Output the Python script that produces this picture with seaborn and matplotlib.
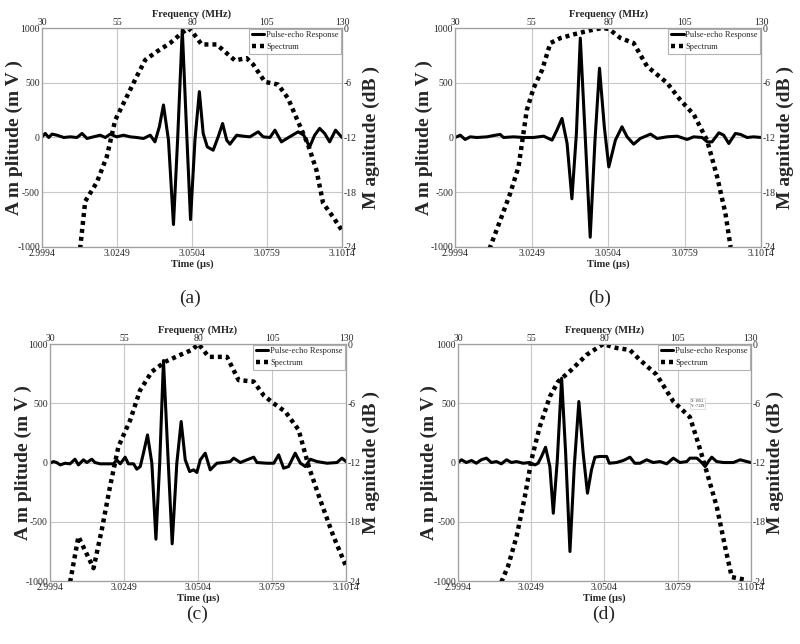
import numpy as np
import matplotlib
matplotlib.use('Agg')
import matplotlib.pyplot as plt
import seaborn as sns

sns.set_style('white')
plt.rcParams['font.family'] = ['Liberation Serif', 'DejaVu Serif']
plt.rcParams['axes.unicode_minus'] = False

# Pulse-echo responses (time in us, amplitude in mV)
t_a = [2.9994, 3.0005, 3.0017, 3.0028, 3.0045, 3.0068, 3.0090, 3.0113, 3.0130, 3.0147,
       3.0169, 3.0192, 3.0209, 3.0226, 3.0248, 3.0271, 3.0294, 3.0316, 3.0339, 3.0362,
       3.0378, 3.0393, 3.0407, 3.0424, 3.0441, 3.0455, 3.0471, 3.0486, 3.0499, 3.0514,
       3.0529, 3.0542, 3.0556, 3.0576, 3.0593, 3.0608, 3.0622, 3.0633, 3.0656, 3.0678,
       3.0701, 3.0729, 3.0746, 3.0769, 3.0786, 3.0808, 3.0836, 3.0865, 3.0884, 3.0904,
       3.0921, 3.0938, 3.0955, 3.0972, 3.0992, 3.1014]
amp_a = [6, 37, 0, 31, 21, 0, 6, 0, 37, -9,
         6, 21, 0, 31, 6, 21, 6, 0, -9, 21,
         -40, 98, 297, -24, -795, -24, 985, 37, -750, -24,
         419, 37, -86, -116, 6, 128, -24, -61, 21, 12,
         6, 52, 6, 0, 67, -40, 6, 52, 21, -86,
         21, 83, 37, -40, 67, 0]

t_b = [2.9994, 3.0011, 3.0027, 3.0044, 3.0066, 3.0100, 3.0122, 3.0144, 3.0155, 3.0189,
       3.0222, 3.0255, 3.0289, 3.0317, 3.0333, 3.0350, 3.0367, 3.0383, 3.0398, 3.0411,
       3.0428, 3.0444, 3.0460, 3.0475, 3.0491, 3.0506, 3.0528, 3.0550, 3.0567, 3.0589,
       3.0611, 3.0645, 3.0667, 3.0700, 3.0734, 3.0767, 3.0789, 3.0817, 3.0834, 3.0850,
       3.0873, 3.0889, 3.0906, 3.0928, 3.0945, 3.0967, 3.0989, 3.1014]
amp_b = [0, 21, -18, 6, 0, 6, 18, 28, 0, 6,
         0, 0, 12, -24, 67, 174, -55, -560, 37, 908,
         -24, -911, -24, 633, 98, -269, -24, 98, 6, -61,
         -9, 31, -9, 6, 12, -18, 6, 0, -40, -40,
         43, 21, -55, 37, 28, 0, 6, 0]

t_c = [2.9994, 3.0006, 3.0017, 3.0029, 3.0046, 3.0063, 3.0080, 3.0092, 3.0109, 3.0121,
       3.0138, 3.0149, 3.0167, 3.0190, 3.0213, 3.0224, 3.0236, 3.0253, 3.0264, 3.0282,
       3.0293, 3.0305, 3.0316, 3.0330, 3.0345, 3.0359, 3.0372, 3.0385, 3.0400, 3.0415,
       3.0431, 3.0446, 3.0460, 3.0475, 3.0489, 3.0500, 3.0512, 3.0529, 3.0546, 3.0569,
       3.0592, 3.0615, 3.0627, 3.0650, 3.0673, 3.0696, 3.0707, 3.0742, 3.0765, 3.0782,
       3.0799, 3.0816, 3.0839, 3.0857, 3.0874, 3.0891, 3.0914, 3.0949, 3.0983, 3.1000,
       3.1014]
amp_c = [-6, 8, 0, -20, -6, -11, 28, -20, 23, 0,
         28, 0, -11, -11, -11, 23, -11, 45, -11, -11,
         -56, -34, 79, 233, -6, -647, -6, 861, 79, -686,
         -6, 346, 23, -76, -62, -84, 23, 79, -62, -6,
         0, 8, 37, 0, 23, 45, 0, -6, -6, 65,
         -48, -34, 79, -6, -34, 28, 8, -6, 0, 37,
         8]

t_d = [2.9994, 3.0006, 3.0023, 3.0041, 3.0058, 3.0075, 3.0093, 3.0110, 3.0128, 3.0145,
       3.0163, 3.0180, 3.0198, 3.0221, 3.0244, 3.0262, 3.0273, 3.0285, 3.0299, 3.0314,
       3.0326, 3.0340, 3.0355, 3.0369, 3.0384, 3.0399, 3.0415, 3.0430, 3.0445, 3.0459,
       3.0471, 3.0488, 3.0512, 3.0521, 3.0546, 3.0570, 3.0593, 3.0610, 3.0628, 3.0651,
       3.0674, 3.0698, 3.0721, 3.0744, 3.0767, 3.0791, 3.0802, 3.0826, 3.0843, 3.0855,
       3.0866, 3.0878, 3.0895, 3.0919, 3.0953, 3.0977, 3.1000, 3.1014]
amp_d = [0, 23, 0, 17, -6, 23, 37, 0, 8, -11,
         23, 0, 8, -6, 0, -20, -6, 51, 129, -34,
         -428, 23, 712, 79, -751, -34, 515, 79, -259, -62,
         45, 51, 51, -6, 0, 17, 45, -6, -6, 23,
         0, 8, -11, 37, 0, 8, 37, 37, 0, -34,
         8, 45, 8, 0, 0, 23, 8, 0]

# Spectra (frequency in MHz, magnitude in dB)
f_a = [42.7, 44.4, 48.3, 51.6, 54.4, 58.3, 61.6, 64.4, 68.2, 72.7, 76.6, 78.8, 80.4, 83.2,
       88.2, 91.0, 94.3, 98.2, 100.4, 104.3, 108.7, 112.0, 115.4, 118.7, 121.5, 123.7, 127.0, 130.0]
db_a = [-24.2, -19.0, -16.9, -14.1, -10.1, -7.5, -5.3, -3.5, -2.6, -1.65, -0.55, 0.0, -0.55, -1.8,
        -1.8, -2.6, -3.55, -3.3, -4.0, -5.9, -6.2, -7.7, -10.3, -12.8, -15.6, -19.2, -20.7, -22.2]

f_b = [41.2, 44.7, 48.0, 50.7, 53.4, 55.6, 58.4, 61.1, 64.4, 68.7, 74.2, 78.0, 80.2, 84.0,
       88.3, 92.7, 99.2, 103.6, 108.0, 112.3, 115.6, 118.3, 120.0]
db_b = [-24.2, -21.1, -18.1, -15.2, -9.0, -6.6, -4.6, -1.65, -1.1, -0.7, -0.25, 0.0, -0.1, -1.1,
        -1.65, -4.2, -6.0, -7.9, -9.5, -12.3, -16.3, -20.3, -24.0]

f_c = [36.8, 39.6, 44.7, 47.5, 50.3, 53.1, 57.1, 60.4, 64.4, 68.9, 74.0, 77.9, 80.2, 83.6,
       89.8, 93.7, 98.8, 102.2, 105.5, 109.5, 114.0, 117.4, 121.3, 125.8, 130.0]
db_c = [-24.1, -19.5, -22.7, -18.8, -14.4, -10.4, -7.7, -4.7, -2.8, -1.8, -1.1, -0.6, 0.0, -1.3,
        -1.3, -3.65, -3.8, -5.2, -6.0, -6.85, -8.7, -12.4, -15.8, -19.5, -22.5]

f_d = [44.8, 47.1, 50.0, 52.8, 55.1, 57.9, 61.4, 64.2, 68.8, 73.9, 79.6, 84.1, 88.7, 92.1,
       97.8, 103.5, 109.2, 112.1, 114.9, 118.4, 121.2, 123.5, 128.6]
db_d = [-24.1, -22.5, -19.5, -15.5, -11.7, -8.4, -5.3, -3.8, -2.6, -1.1, 0.0, -0.4, -0.6, -1.6,
        -3.1, -5.8, -7.4, -10.1, -12.9, -16.5, -20.5, -23.6, -23.9]

# Axis ticks
time_ticks = [2.9994, 3.0249, 3.0504, 3.0759, 3.1014]
time_labels = ['2.9994', '3.0249', '3.0504', '3.0759', '3.1014']
freq_ticks = [30, 55, 80, 105, 130]
amp_ticks = [-1000, -500, 0, 500, 1000]
db_ticks = [-24, -18, -12, -6, 0]


def panel(fig, pos, t, amp, f, db, cap, cap_xy, lab_l, lab_r):
    ax = fig.add_axes(pos)
    sns.lineplot(x=t, y=amp, ax=ax, color='black', lw=2.2, estimator=None,
                 label='Pulse-echo Response')
    ax.set_xlim(time_ticks[0], time_ticks[-1])
    ax.set_ylim(-1000, 1000)
    ax.set_xticks(time_ticks, time_labels)
    ax.set_yticks(amp_ticks)
    ax.grid(True, color='#c8c8c8', lw=0.8)
    ax.set_xlabel('Time (\u03bcs)', fontsize=7.5, fontweight='bold', labelpad=1)
    ax.set_ylabel('A m plitude (m V )', fontsize=14, fontweight='bold')
    ax.yaxis.set_label_coords(lab_l, 0.5)
    ax.tick_params(length=0, pad=1.5, labelsize=7)

    # right y (dB) and top x (frequency)
    ax2 = ax.twinx()
    ax2.set_ylim(-24, 0)
    ax2.set_yticks(db_ticks)
    ax2.set_ylabel('M agnitude (dB )', fontsize=14, fontweight='bold')
    ax2.yaxis.set_label_coords(lab_r, 0.5)
    ax2.tick_params(length=0, pad=1, labelsize=7)
    ax3 = ax2.twiny()
    sns.lineplot(x=f, y=db, ax=ax3, color='black', lw=3.2, estimator=None,
                 linestyle=(0, (0.9, 0.9)), label='Spectrum')
    ax3.set_xlim(30, 130)
    ax3.set_ylim(-24, 0)
    ax3.set_xticks(freq_ticks)
    ax3.set_xlabel('Frequency (MHz)', fontsize=7.5, fontweight='bold', labelpad=1)
    ax3.tick_params(length=0, pad=0.5, labelsize=7)

    for a in (ax, ax2, ax3):
        for s in a.spines.values():
            s.set_color('#a0a0a0')
            s.set_linewidth(0.8)

    h1, l1 = ax.get_legend_handles_labels()
    h3, l3 = ax3.get_legend_handles_labels()
    ax.get_legend().remove()
    ax3.get_legend().remove()
    leg = ax3.legend(h1 + h3, l1 + l3, loc='upper right', fontsize=6.1, frameon=True,
                     fancybox=False, edgecolor='#a0a0a0', handlelength=1.5,
                     handletextpad=0.2, borderpad=0.3, labelspacing=0.45,
                     borderaxespad=0.1)
    leg.get_frame().set_linewidth(0.8)

    fig.text(cap_xy[0], cap_xy[1], cap, fontsize=14, ha='center', va='center')
    return ax3


fig = plt.figure(figsize=(8, 6.44), dpi=100)

panel(fig, [0.0525, 0.6165, 0.375, 0.340], t_a, amp_a, f_a, db_a, '(a)', (0.2375, 0.537), -0.063, 1.07)
panel(fig, [0.569, 0.6165, 0.3825, 0.340], t_b, amp_b, f_b, db_b, '(b)', (0.75, 0.537), -0.072, 1.052)
panel(fig, [0.0625, 0.0978, 0.370, 0.368], t_c, amp_c, f_c, db_c, '(c)', (0.246, 0.046), -0.061, 1.057)
ax_d = panel(fig, [0.5725, 0.0978, 0.366, 0.368], t_d, amp_d, f_d, db_d, '(d)', (0.754, 0.046), -0.068, 1.055)

# small data tip left on panel (d)
ax_d.text(111.8, -6.0, 'X: 109.2\nY: -7.229', fontsize=2.5, ha='center', va='center',
          bbox=dict(boxstyle='square,pad=0.3', fc='white', ec='#d0d0d0', lw=0.5))

plt.savefig('out.png', dpi=100)
